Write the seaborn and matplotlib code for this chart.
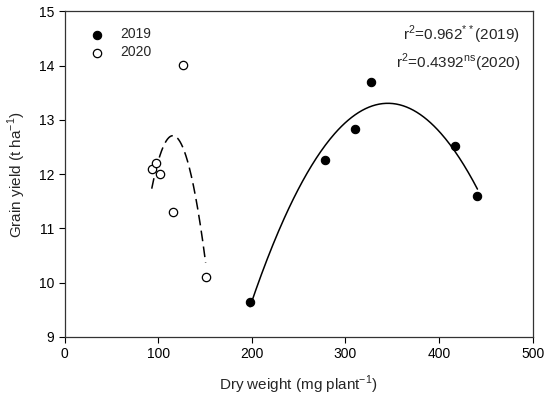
import numpy as np
import pandas as pd
import matplotlib
matplotlib.use("Agg")
import matplotlib.pyplot as plt
import seaborn as sns

# Data
dw_2019 = [198, 278, 310, 327, 417, 441]
gy_2019 = [9.65, 12.26, 12.84, 13.70, 12.52, 11.60]
dw_2020 = [93, 97.5, 101.5, 116, 126, 150.6]
gy_2020 = [12.10, 12.21, 12.00, 11.30, 14.02, 10.10]

sns.set_style("ticks")
plt.rcParams['font.family'] = ['Liberation Sans', 'DejaVu Sans']
plt.rcParams['mathtext.fontset'] = 'custom'
plt.rcParams['mathtext.rm'] = 'Liberation Sans'

fig = plt.figure(figsize=(5.5, 3.99), dpi=100)
ax = fig.add_axes([0.1176, 0.1554, 0.8509, 0.8158])

df19 = pd.DataFrame({"x": dw_2019, "y": gy_2019})
df20 = pd.DataFrame({"x": dw_2020, "y": gy_2020})

# quadratic fits
c19 = np.polyfit(dw_2019, gy_2019, 2)
c20 = np.polyfit(dw_2020, gy_2020, 2)
x19 = np.linspace(min(dw_2019), max(dw_2019), 200)
x20 = np.linspace(min(dw_2020), max(dw_2020), 200)
sns.lineplot(x=x19, y=np.polyval(c19, x19), ax=ax, color="black", lw=1.1)
sns.lineplot(x=x20, y=np.polyval(c20, x20), ax=ax, color="black", lw=1.1,
             linestyle=(0, (7, 3.5)))

sns.scatterplot(data=df19, x="x", y="y", ax=ax, color="black", s=36,
                edgecolor="black", linewidth=0.8, zorder=3, label="2019")
sns.scatterplot(data=df20, x="x", y="y", ax=ax, facecolor="white", s=36,
                edgecolor="black", linewidth=0.9, zorder=3, label="2020")

ax.set_xlim(0, 500)
ax.set_ylim(9, 15)
ax.set_xticks([0, 100, 200, 300, 400, 500])
ax.set_yticks([9, 10, 11, 12, 13, 14, 15])
ax.tick_params(direction="out", length=4, width=0.8, labelsize=10, colors="black")
for s in ax.spines.values():
    s.set_linewidth(0.9)
    s.set_color("#333333")
ax.set_xlabel("Dry weight (mg plant$^{-1}$)", fontsize=11, labelpad=9)
ax.set_ylabel("Grain yield (t ha$^{-1}$)", fontsize=11, labelpad=8)

leg = ax.legend(loc="upper left", frameon=False, fontsize=10,
                bbox_to_anchor=(0.012, 0.99), handletextpad=0.7,
                labelspacing=0.3, markerscale=1.0)

ax.text(0.973, 0.928, "r$^2$=0.962$^{**}$(2019)", transform=ax.transAxes,
        ha="right", va="center", fontsize=11)
ax.text(0.973, 0.842, "r$^2$=0.4392$^{\\rm ns}$(2020)", transform=ax.transAxes,
        ha="right", va="center", fontsize=11)

fig.savefig("out.png", dpi=100)
